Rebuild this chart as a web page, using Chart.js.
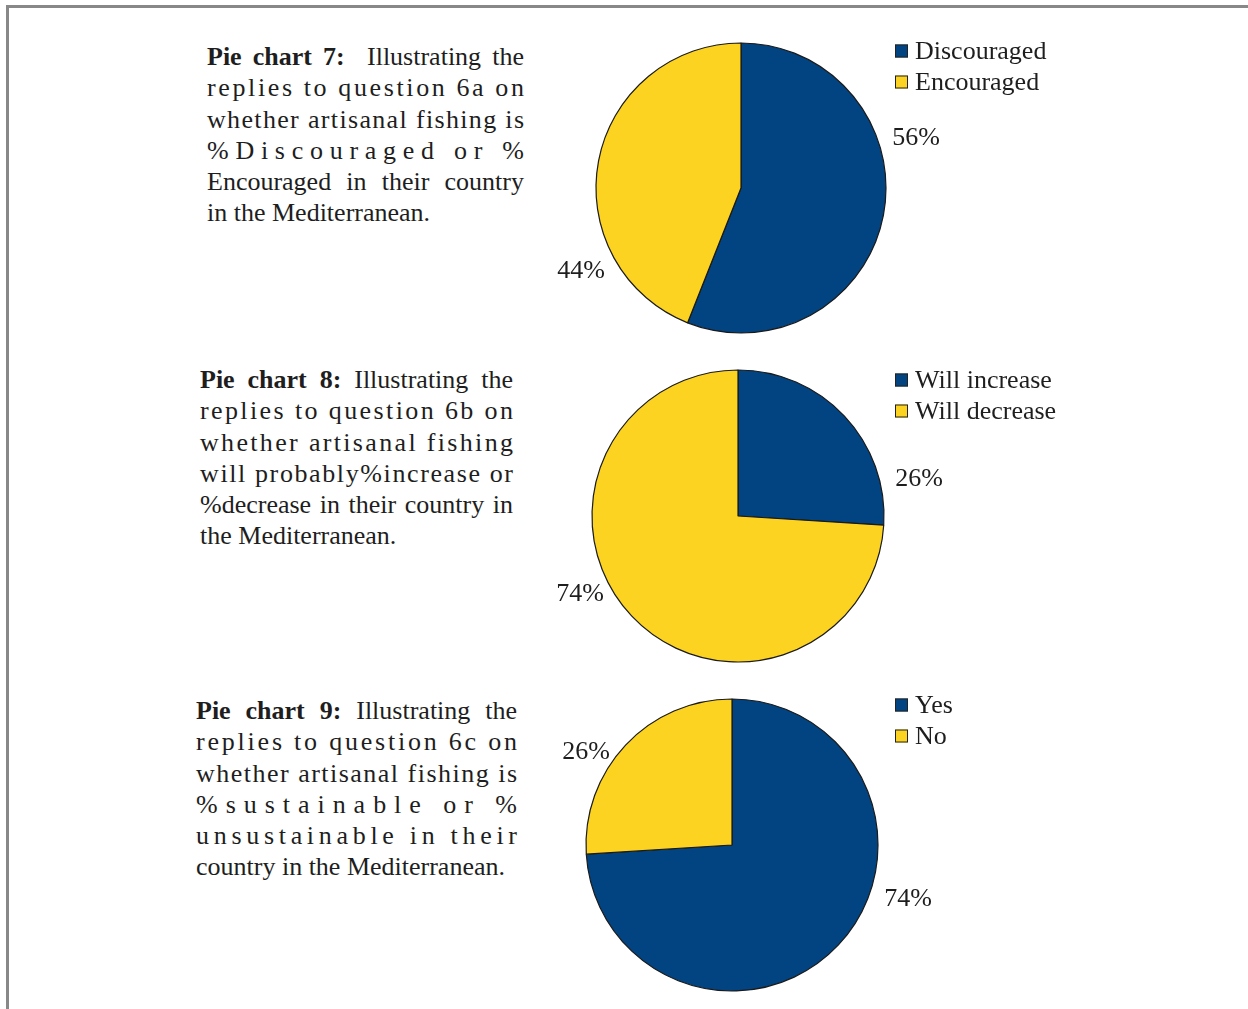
<!DOCTYPE html>
<html>
<head>
<meta charset="utf-8">
<script src="https://cdn.jsdelivr.net/npm/chart.js@4/dist/chart.umd.min.js"></script>
<style>
  html, body { margin: 0; padding: 0; background: #fff; }
  body { width: 1248px; height: 1009px; position: relative; overflow: hidden; }
  .frame { position: absolute; left: 6px; top: 5px; width: 1260px; height: 1100px;
           border-left: 3px solid #888; border-top: 3px solid #888; }
  .para { position: absolute; font-family: "Liberation Serif", serif; font-size: 26px;
          line-height: 31.3px; color: #1e1e1e; }
  .para div { white-space: nowrap; }
  .para b { font-weight: bold; }
  canvas { position: absolute; }
</style>
</head>
<body>
<div class="frame"></div>

<div class="para" id="p7" style="left:207px; top:41px; width:317px;">
  <div class="w"><b>Pie chart 7:</b>&nbsp; Illustrating the</div>
  <div class="j">replies to question 6a on</div>
  <div class="j">whether artisanal fishing is</div>
  <div class="j">%Discouraged or %</div>
  <div class="w">Encouraged in their country</div>
  <div>in the Mediterranean.</div>
</div>

<div class="para" id="p8" style="left:200px; top:364px; width:313px;">
  <div class="w"><b>Pie chart 8:</b> Illustrating the</div>
  <div class="j">replies to question 6b on</div>
  <div class="j">whether artisanal fishing</div>
  <div class="j">will probably%increase or</div>
  <div class="w">%decrease in their country in</div>
  <div>the Mediterranean.</div>
</div>

<div class="para" id="p9" style="left:196px; top:695px; width:321px;">
  <div class="w"><b>Pie chart 9:</b> Illustrating the</div>
  <div class="j">replies to question 6c on</div>
  <div class="j">whether artisanal fishing is</div>
  <div class="j">%sustainable or %</div>
  <div class="j">unsustainable in their</div>
  <div>country in the Mediterranean.</div>
</div>

<canvas id="c7" width="560" height="330" style="left:540px; top:20px;"></canvas>
<canvas id="c8" width="560" height="330" style="left:540px; top:350px;"></canvas>
<canvas id="c9" width="560" height="330" style="left:540px; top:680px;"></canvas>

<script>
// question 6a
const labels7 = ["Discouraged", "Encouraged"];
const values7 = [56, 44];
// question 6b
const labels8 = ["Will increase", "Will decrease"];
const values8 = [26, 74];
// question 6c
const labels9 = ["Yes", "No"];
const values9 = [74, 26];

const BLUE = "#024482";
const YELLOW = "#fdd321";
const FONT = '26px "Liberation Serif", serif';

// stretch justified lines to the box width: .j spreads letters, .w spreads words
document.querySelectorAll(".para").forEach(p => {
  const w = p.clientWidth;
  p.querySelectorAll("div.j, div.w").forEach(line => {
    const span = document.createElement("span");
    span.innerHTML = line.innerHTML;
    line.innerHTML = "";
    line.appendChild(span);
    const natural = span.getBoundingClientRect().width;
    const txt = span.textContent;
    if (natural >= w) return;
    if (line.classList.contains("w")) {
      const gaps = (txt.match(/[ \u00a0]/g) || []).length;
      if (gaps) span.style.wordSpacing = ((w - natural) / gaps) + "px";
    } else if (txt.length > 1) {
      span.style.letterSpacing = ((w - natural) / (txt.length - 1)) + "px";
    }
  });
});

// percentage labels and a square-marker legend, drawn on top of the pie
const pieDecor = {
  id: "pieDecor",
  afterDraw(chart, args, opts) {
    const ctx = chart.ctx;
    const ds = chart.data.datasets[0];
    ctx.save();
    ctx.font = FONT;
    ctx.textBaseline = "middle";
    // legend
    chart.data.labels.forEach((lab, i) => {
      const y = opts.legend.y + i * 31;
      ctx.fillStyle = ds.backgroundColor[i];
      ctx.fillRect(opts.legend.x, y - 6.5, 13, 13);
      ctx.strokeStyle = "#222";
      ctx.lineWidth = 1;
      ctx.strokeRect(opts.legend.x + 0.5, y - 6, 12, 12);
      ctx.fillStyle = "#1e1e1e";
      ctx.textAlign = "left";
      ctx.fillText(lab, opts.legend.x + 20, y + 1);
    });
    // value labels
    ctx.textAlign = "center";
    ctx.fillStyle = "#1e1e1e";
    ds.data.forEach((v, i) => {
      const p = opts.labels[i];
      ctx.fillText(v + "%", p.x, p.y);
    });
    ctx.restore();
  }
};

function makePie(id, labels, values, center, radius, decor) {
  const box = 150;
  const W = 560, H = 330;
  return new Chart(document.getElementById(id), {
    type: "pie",
    data: {
      labels,
      datasets: [{
        data: values,
        backgroundColor: [BLUE, YELLOW],
        borderColor: "#1a1a1a",
        borderWidth: 1.2,
        radius
      }]
    },
    options: {
      responsive: false,
      animation: false,
      devicePixelRatio: 1,
      layout: {
        padding: {
          left: center.x - box,
          right: W - center.x - box,
          top: center.y - box,
          bottom: H - center.y - box
        }
      },
      plugins: {
        legend: { display: false },
        tooltip: { enabled: false },
        pieDecor: decor
      }
    },
    plugins: [pieDecor]
  });
}

makePie("c7", labels7, values7, { x: 201, y: 168 }, 145, {
  legend: { x: 355, y: 31 },
  labels: [{ x: 376, y: 118 }, { x: 41, y: 251 }]
});
makePie("c8", labels8, values8, { x: 198, y: 166 }, 146, {
  legend: { x: 355, y: 30 },
  labels: [{ x: 379, y: 129 }, { x: 40, y: 244 }]
});
makePie("c9", labels9, values9, { x: 192, y: 165 }, 146, {
  legend: { x: 355, y: 25 },
  labels: [{ x: 368, y: 219 }, { x: 46, y: 72 }]
});
</script>
</body>
</html>
